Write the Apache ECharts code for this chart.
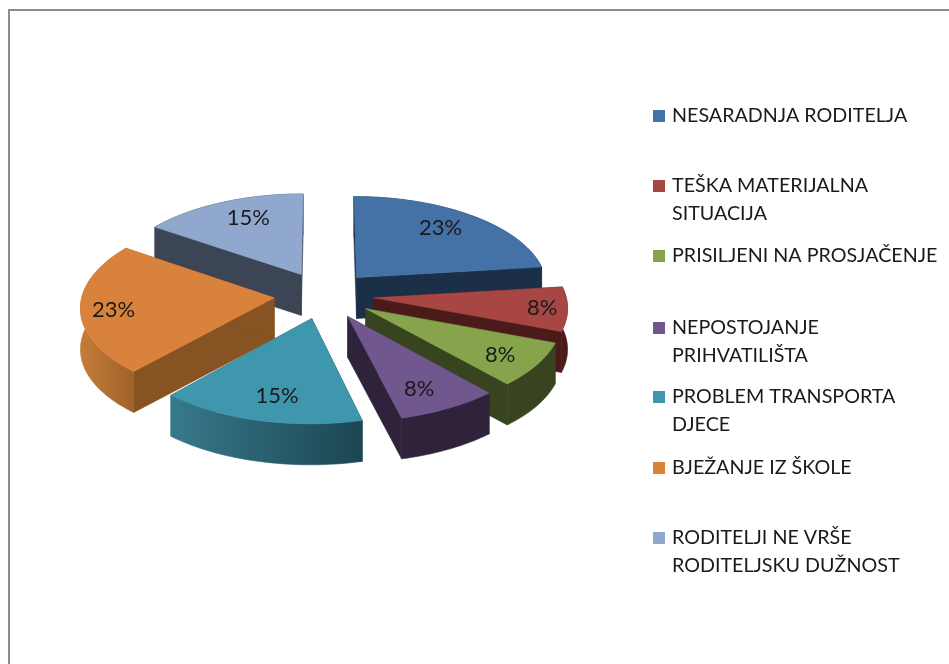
<!DOCTYPE html>
<html><head><meta charset="utf-8">
<style>html,body{margin:0;padding:0;background:#fff}#c{width:949px;height:664px;filter:blur(0.4px)}</style>
<script src="https://cdn.jsdelivr.net/npm/echarts@6/dist/echarts.min.js"></script>
</head><body><div id="c"></div>
<script>
const categories = ['NESARADNJA RODITELJA','TEŠKA MATERIJALNA\nSITUACIJA','PRISILJENI NA PROSJAČENJE','NEPOSTOJANJE\nPRIHVATILIŠTA','PROBLEM TRANSPORTA\nDJECE','BJEŽANJE IZ ŠKOLE','RODITELJI NE VRŠE\nRODITELJSKU DUŽNOST'];
const values = [3,1,1,1,2,3,2];
const topColors = ['#4472A6','#A84644','#87A44C','#70578E','#3F97AE','#D9823B','#91A8CE'];
const wallColors = ['#1B2F47','#4B1B19','#38431F','#2E233B','#1F4A56','#875322','#3C4555'];
const rimLeft = ['#1B2F47','#4B1B19','#38431F','#2E233B','#37798C','#C47C38','#3C4555'];
const rimRight = ['#1B2F47','#4B1B19','#38431F','#2E233B','#1C4651','#A0622A','#3C4555'];
const labelRadii = [0.68,0.87,0.84,0.77,0.77,0.83,0.65];
const labelNudge = [[4,-7],[0,0],[-8,-1],[-5,3],[5,1],[0,3],[0,-9]];
const legendCentres = [117,187,257,329,398,469,539];

const G = {cx:324, cy:295, R:192, tilt:0.475, persp:0.09, explode:50, depth:41};
const total = values.reduce((a,b)=>a+b,0);
function project(X,Y){
  const f = 1/(1+G.persp*Y/G.R);
  return [G.cx+X*f, G.cy-Y*G.tilt*f, f];
}
function rad(d){return d*Math.PI/180;}
const starts = []; let acc = 0;
values.forEach(v=>{starts.push(acc); acc+=v/total*360;});

function makeRender(i){
  return function(params, api){
    const v = api.value(0);
    const a0 = starts[i], a1 = a0 + v/total*360, mid = (a0+a1)/2;
    const ox = G.explode*Math.sin(rad(mid)), oy = G.explode*Math.cos(rad(mid));
    const pt = (r,a)=>project(ox+r*Math.sin(rad(a)), oy+r*Math.cos(rad(a)));
    const down = p=>[p[0], p[1]+G.depth];
    const apex = pt(0,0);
    const arc = [];
    const n = Math.ceil((a1-a0)/1.5);
    for(let k=0;k<=n;k++) arc.push(pt(G.R, a0+(a1-a0)*k/n));
    const poly = (pts,fill)=>({type:'polygon',silent:true,shape:{points:pts.map(p=>[p[0],p[1]])},
      style:{fill:fill,stroke:fill,lineWidth:0.6,lineJoin:'round'}});
    const children = [];
    const wall = p=>poly([apex,p,down(p),down(apex)],wallColors[i]);
    children.push(wall(arc[0]));
    children.push(wall(arc[n]));
    const xs = arc.map(p=>p[0]);
    const xMin = Math.min.apply(null,xs), xMax = Math.max.apply(null,xs);
    const rimFill = {type:'linear',global:true,x:xMin,y:0,x2:xMax,y2:0,colorStops:[
      {offset:0,color:rimLeft[i]},{offset:1,color:rimRight[i]}]};
    children.push(poly(arc.concat(arc.slice().reverse().map(down)),rimFill));
    children.push(poly([apex].concat(arc),topColors[i]));
    const lp = pt(G.R*labelRadii[i],mid);
    children.push({type:'text',silent:true,x:lp[0]+labelNudge[i][0],y:lp[1]+labelNudge[i][1],style:{
      text:Math.round(v/total*100)+'%',fill:'#1a1a1a',font:'22px Lato',align:'center',verticalAlign:'middle'}});
    return {type:'group',children:children};
  };
}

const mids = starts.map((s,i)=>Math.cos(rad(s+values[i]/total*180)));
const rank = mids.map((m,i)=>mids.filter(o=>o>m).length);

const chart = echarts.init(document.getElementById('c'),null,{renderer:'canvas'});
chart.setOption({
  animation:false,
  backgroundColor:'#fff',
  graphic:[
    {type:'line',silent:true,shape:{x1:8,y1:10,x2:949,y2:10},style:{stroke:'#8c8c8c',lineWidth:2}},
    {type:'line',silent:true,shape:{x1:9,y1:10,x2:9,y2:664},style:{stroke:'#8c8c8c',lineWidth:2}}
  ],
  legend:categories.map((c,i)=>{
    const two = c.indexOf('\n')>=0;
    return {
      show:true,orient:'vertical',left:653,top:legendCentres[i]-(two?43:15),padding:0,
      data:[c],icon:'rect',itemWidth:12,itemHeight:12,itemGap:0,selectedMode:false,
      formatter:two?(n=>'\n'+n):(n=>n),
      textStyle:{color:'#1a1a1a',fontFamily:'Lato',fontSize:19.7,lineHeight:28,padding:[0,0,0,2]}
    };
  }),
  series:categories.map((c,i)=>({
    type:'custom',name:c,coordinateSystem:'none',z:2+rank[i],silent:true,
    itemStyle:{color:topColors[i]},
    renderItem:makeRender(i),
    data:[[values[i]]]
  }))
});
</script></body></html>
